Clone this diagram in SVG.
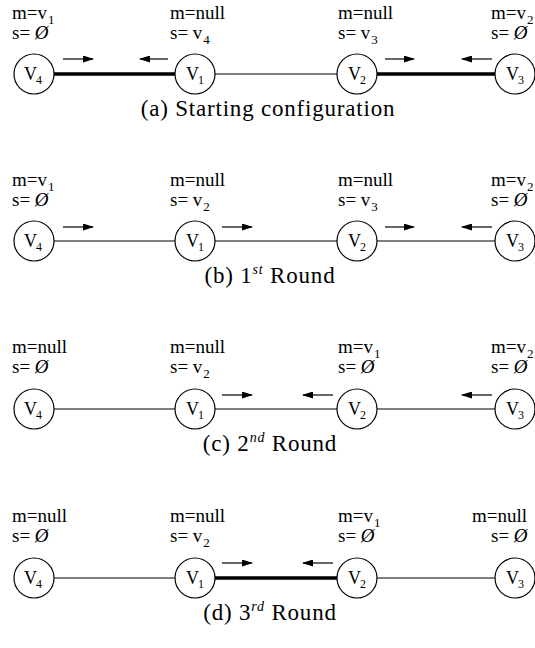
<svg xmlns="http://www.w3.org/2000/svg" width="535" height="648" viewBox="0 0 535 648">
<style>
.lbl{font-family:"Liberation Serif","Times New Roman",serif;font-size:19px;fill:#000}
.sub{font-size:13px}
.nd circle{fill:#fff;stroke:#000;stroke-width:1.2}
.nt{font-family:"Liberation Serif","Times New Roman",serif;font-size:18px;fill:#000}
.ns{font-size:12px}
.cap{font-family:"Liberation Serif","Times New Roman",serif;font-size:23px;letter-spacing:0.8px;fill:#000;text-anchor:middle}
.sup{font-size:14px;font-style:italic}
.e{stroke:#000;stroke-width:1}
.eb{stroke:#000;stroke-width:3.5}
.ar{stroke:#000;stroke-width:1.2;marker-end:url(#ah)}
</style>
<defs>
<marker id="ah" viewBox="0 0 11 7" refX="10" refY="3.5" markerWidth="11" markerHeight="7" markerUnits="userSpaceOnUse" orient="auto">
<path d="M0,0 L11,3.5 L0,7 z" fill="#000"/>
</marker>
</defs>

<g id="connectors">
<!-- row a -->
<line class="eb" x1="54" y1="74" x2="175" y2="74"/>
<line class="e" x1="215" y1="74" x2="337" y2="74"/>
<line class="eb" x1="377" y1="74" x2="495" y2="74"/>
<line class="ar" x1="63" y1="59" x2="93" y2="59"/>
<line class="ar" x1="168" y1="59" x2="140" y2="59"/>
<line class="ar" x1="385" y1="59" x2="414" y2="59"/>
<line class="ar" x1="492" y1="59" x2="462" y2="59"/>
<!-- row b -->
<line class="e" x1="54" y1="241" x2="175" y2="241"/>
<line class="e" x1="215" y1="241" x2="337" y2="241"/>
<line class="e" x1="377" y1="241" x2="495" y2="241"/>
<line class="ar" x1="63" y1="227" x2="93" y2="227"/>
<line class="ar" x1="222" y1="227" x2="252" y2="227"/>
<line class="ar" x1="385" y1="227" x2="414" y2="227"/>
<line class="ar" x1="492" y1="227" x2="462" y2="227"/>
<!-- row c -->
<line class="e" x1="54" y1="409" x2="175" y2="409"/>
<line class="e" x1="215" y1="409" x2="337" y2="409"/>
<line class="e" x1="377" y1="409" x2="495" y2="409"/>
<line class="ar" x1="222" y1="395" x2="252" y2="395"/>
<line class="ar" x1="333" y1="395" x2="303" y2="395"/>
<line class="ar" x1="492" y1="395" x2="462" y2="395"/>
<!-- row d -->
<line class="e" x1="54" y1="578" x2="175" y2="578"/>
<line class="eb" x1="215" y1="578" x2="337" y2="578"/>
<line class="e" x1="377" y1="578" x2="495" y2="578"/>
<line class="ar" x1="222" y1="563" x2="252" y2="563"/>
<line class="ar" x1="333" y1="563" x2="303" y2="563"/>
</g>

<!-- Row a -->
<g id="a-v4" class="nd">
<circle cx="34" cy="74" r="20"/>
<text class="nt" x="24" y="80">V<tspan class="ns" dx="-1" dy="4">4</tspan></text>
<text class="lbl" x="12" y="19">m=v<tspan class="sub" dx="1" dy="5">1</tspan></text>
<text class="lbl" x="12" y="39">s= <tspan font-style="italic">Ø</tspan></text>
</g>
<g id="a-v1" class="nd">
<circle cx="195" cy="74" r="20"/>
<text class="nt" x="186" y="80">V<tspan class="ns" dx="-1" dy="4">1</tspan></text>
<text class="lbl" x="170" y="19">m=null</text>
<text class="lbl" x="170" y="39">s= v<tspan class="sub" dx="1" dy="5">4</tspan></text>
</g>
<g id="a-v2" class="nd">
<circle cx="357" cy="74" r="20"/>
<text class="nt" x="348" y="80">V<tspan class="ns" dx="-1" dy="4">2</tspan></text>
<text class="lbl" x="338" y="19">m=null</text>
<text class="lbl" x="338" y="39">s= v<tspan class="sub" dx="1" dy="5">3</tspan></text>
</g>
<g id="a-v3" class="nd">
<circle cx="515" cy="74" r="20"/>
<text class="nt" x="506" y="80">V<tspan class="ns" dx="-1" dy="4">3</tspan></text>
<text class="lbl" x="491" y="19">m=v<tspan class="sub" dx="1" dy="5">2</tspan></text>
<text class="lbl" x="491" y="39">s= <tspan font-style="italic">Ø</tspan></text>
</g>
<text class="cap" x="268" y="116">(a) Starting configuration</text>

<!-- Row b -->
<g id="b-v4" class="nd">
<circle cx="34" cy="241" r="20"/>
<text class="nt" x="24" y="247">V<tspan class="ns" dx="-1" dy="4">4</tspan></text>
<text class="lbl" x="12" y="186">m=v<tspan class="sub" dx="1" dy="5">1</tspan></text>
<text class="lbl" x="12" y="206">s= <tspan font-style="italic">Ø</tspan></text>
</g>
<g id="b-v1" class="nd">
<circle cx="195" cy="241" r="20"/>
<text class="nt" x="186" y="247">V<tspan class="ns" dx="-1" dy="4">1</tspan></text>
<text class="lbl" x="170" y="186">m=null</text>
<text class="lbl" x="170" y="206">s= v<tspan class="sub" dx="1" dy="5">2</tspan></text>
</g>
<g id="b-v2" class="nd">
<circle cx="357" cy="241" r="20"/>
<text class="nt" x="348" y="247">V<tspan class="ns" dx="-1" dy="4">2</tspan></text>
<text class="lbl" x="338" y="186">m=null</text>
<text class="lbl" x="338" y="206">s= v<tspan class="sub" dx="1" dy="5">3</tspan></text>
</g>
<g id="b-v3" class="nd">
<circle cx="515" cy="241" r="20"/>
<text class="nt" x="506" y="247">V<tspan class="ns" dx="-1" dy="4">3</tspan></text>
<text class="lbl" x="491" y="186">m=v<tspan class="sub" dx="1" dy="5">2</tspan></text>
<text class="lbl" x="491" y="206">s= <tspan font-style="italic">Ø</tspan></text>
</g>
<text class="cap" x="270" y="283">(b) 1<tspan class="sup" dy="-9">st</tspan><tspan dy="9"> Round</tspan></text>

<!-- Row c -->
<g id="c-v4" class="nd">
<circle cx="34" cy="409" r="20"/>
<text class="nt" x="24" y="415">V<tspan class="ns" dx="-1" dy="4">4</tspan></text>
<text class="lbl" x="12" y="353">m=null</text>
<text class="lbl" x="12" y="373">s= <tspan font-style="italic">Ø</tspan></text>
</g>
<g id="c-v1" class="nd">
<circle cx="195" cy="409" r="20"/>
<text class="nt" x="186" y="415">V<tspan class="ns" dx="-1" dy="4">1</tspan></text>
<text class="lbl" x="170" y="353">m=null</text>
<text class="lbl" x="170" y="373">s= v<tspan class="sub" dx="1" dy="5">2</tspan></text>
</g>
<g id="c-v2" class="nd">
<circle cx="357" cy="409" r="20"/>
<text class="nt" x="348" y="415">V<tspan class="ns" dx="-1" dy="4">2</tspan></text>
<text class="lbl" x="338" y="353">m=v<tspan class="sub" dx="1" dy="5">1</tspan></text>
<text class="lbl" x="338" y="373">s= <tspan font-style="italic">Ø</tspan></text>
</g>
<g id="c-v3" class="nd">
<circle cx="515" cy="409" r="20"/>
<text class="nt" x="506" y="415">V<tspan class="ns" dx="-1" dy="4">3</tspan></text>
<text class="lbl" x="491" y="353">m=v<tspan class="sub" dx="1" dy="5">2</tspan></text>
<text class="lbl" x="491" y="373">s= <tspan font-style="italic">Ø</tspan></text>
</g>
<text class="cap" x="270" y="451">(c) 2<tspan class="sup" dy="-9">nd</tspan><tspan dy="9"> Round</tspan></text>

<!-- Row d -->
<g id="d-v4" class="nd">
<circle cx="34" cy="578" r="20"/>
<text class="nt" x="24" y="584">V<tspan class="ns" dx="-1" dy="4">4</tspan></text>
<text class="lbl" x="12" y="522">m=null</text>
<text class="lbl" x="12" y="542">s= <tspan font-style="italic">Ø</tspan></text>
</g>
<g id="d-v1" class="nd">
<circle cx="195" cy="578" r="20"/>
<text class="nt" x="186" y="584">V<tspan class="ns" dx="-1" dy="4">1</tspan></text>
<text class="lbl" x="170" y="522">m=null</text>
<text class="lbl" x="170" y="542">s= v<tspan class="sub" dx="1" dy="5">2</tspan></text>
</g>
<g id="d-v2" class="nd">
<circle cx="357" cy="578" r="20"/>
<text class="nt" x="348" y="584">V<tspan class="ns" dx="-1" dy="4">2</tspan></text>
<text class="lbl" x="338" y="522">m=v<tspan class="sub" dx="1" dy="5">1</tspan></text>
<text class="lbl" x="338" y="542">s= <tspan font-style="italic">Ø</tspan></text>
</g>
<g id="d-v3" class="nd">
<circle cx="515" cy="578" r="20"/>
<text class="nt" x="506" y="584">V<tspan class="ns" dx="-1" dy="4">3</tspan></text>
<text class="lbl" x="472" y="522">m=null</text>
<text class="lbl" x="491" y="542">s= <tspan font-style="italic">Ø</tspan></text>
</g>
<text class="cap" x="270" y="620">(d) 3<tspan class="sup" dy="-9">rd</tspan><tspan dy="9"> Round</tspan></text>
</svg>
